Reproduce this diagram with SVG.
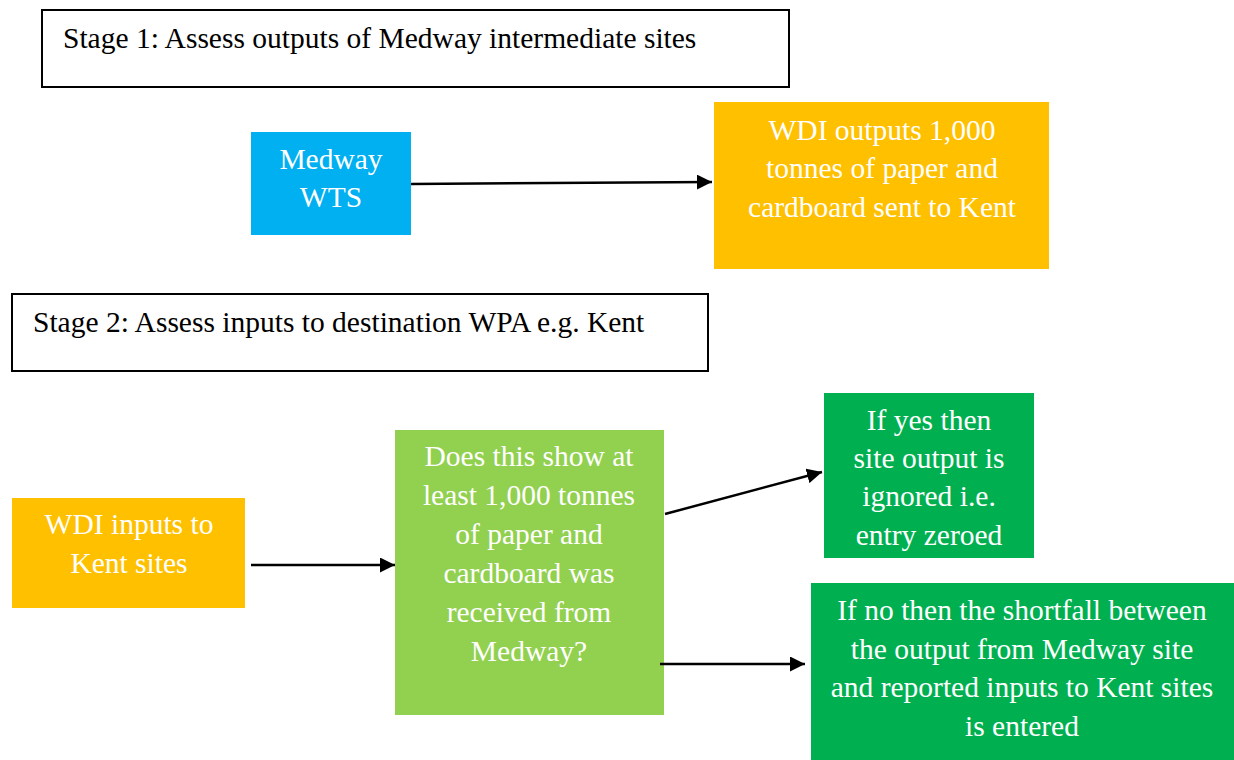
<svg xmlns="http://www.w3.org/2000/svg" width="1234" height="760" viewBox="0 0 1234 760">
<defs>
<marker id="ah" viewBox="0 0 10 10" refX="10" refY="5" markerWidth="6" markerHeight="6" orient="auto" markerUnits="strokeWidth">
<path d="M0,0 L10,5 L0,10 z" fill="#000"/>
</marker>
<style>
.stage{fill:#fff;stroke:#000;stroke-width:2}
.t{font-family:"Liberation Serif","Times New Roman",serif;font-size:29.5px}
.w{fill:#fff;text-anchor:middle}
.k{fill:#000}
.c{stroke:#000;stroke-width:2.5;fill:none;marker-end:url(#ah)}
</style>
<clipPath id="clipYes"><rect x="824" y="393" width="210" height="165"/></clipPath>
</defs>
<rect width="1234" height="760" fill="#fff"/>
<g id="stage1">
<rect class="stage" x="42" y="10" width="747" height="77"/>
<text class="t k" x="63" y="48">Stage 1: Assess outputs of Medway intermediate sites</text>
</g>
<g id="medway-wts">
<rect x="251" y="132" width="160" height="103" fill="#00B0F0"/>
<text class="t w" x="331" y="169">Medway</text>
<text class="t w" x="331" y="207">WTS</text>
</g>
<g id="wdi-outputs">
<rect x="714" y="102" width="335" height="167" fill="#FFC000"/>
<text class="t w" x="882" y="140">WDI outputs 1,000</text>
<text class="t w" x="882" y="178">tonnes of paper and</text>
<text class="t w" x="882" y="217">cardboard sent to Kent</text>
</g>
<g id="stage2">
<rect class="stage" x="12" y="294" width="696" height="77"/>
<text class="t k" x="33" y="332">Stage 2: Assess inputs to destination WPA e.g. Kent</text>
</g>
<g id="wdi-inputs">
<rect x="12" y="498" width="233" height="110" fill="#FFC000"/>
<text class="t w" x="129" y="534">WDI inputs to</text>
<text class="t w" x="129" y="573">Kent sites</text>
</g>
<g id="question">
<rect x="395" y="430" width="269" height="285" fill="#92D050"/>
<text class="t w" x="529" y="466">Does this show at</text>
<text class="t w" x="529" y="505">least 1,000 tonnes</text>
<text class="t w" x="529" y="544">of paper and</text>
<text class="t w" x="529" y="583">cardboard was</text>
<text class="t w" x="529" y="622">received from</text>
<text class="t w" x="529" y="661">Medway?</text>
</g>
<g id="if-yes">
<rect x="824" y="393" width="210" height="165" fill="#00B050"/>
<g clip-path="url(#clipYes)">
<text class="t w" x="929" y="430">If yes then</text>
<text class="t w" x="929" y="468">site output is</text>
<text class="t w" x="929" y="506">ignored i.e.</text>
<text class="t w" x="929" y="545">entry zeroed</text>
</g>
</g>
<g id="if-no">
<rect x="811" y="583" width="423" height="177" fill="#00B050"/>
<text class="t w" x="1022" y="620">If no then the shortfall between</text>
<text class="t w" x="1022" y="659">the output from Medway site</text>
<text class="t w" x="1022" y="697">and reported inputs to Kent sites</text>
<text class="t w" x="1022" y="736">is entered</text>
</g>
<g id="connectors">
<line class="c" x1="411" y1="184" x2="712" y2="182"/>
<line class="c" x1="251" y1="565" x2="395" y2="565"/>
<line class="c" x1="665" y1="514" x2="822" y2="472"/>
<line class="c" x1="660" y1="664" x2="805" y2="664"/>
</g>
</svg>
